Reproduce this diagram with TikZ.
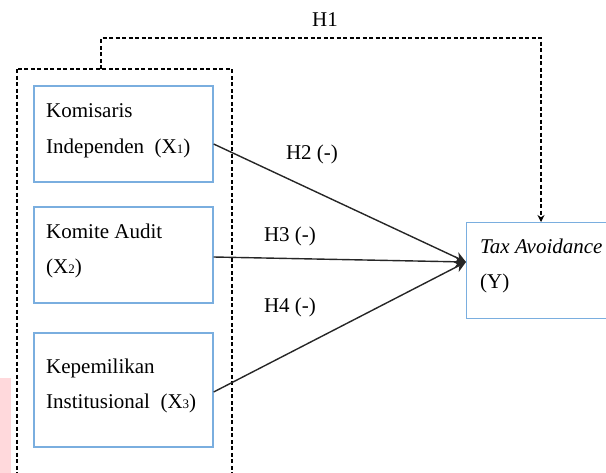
\documentclass[tikz,border=0pt]{standalone}
\usepackage{fontspec}
\setmainfont{Liberation Serif}
\usetikzlibrary{arrows.meta}
\definecolor{boxblue}{HTML}{7AAEDF}
\definecolor{wmpink}{HTML}{FFD9DC}
\tikzset{
  varbox/.style={draw=boxblue, line width=1.3pt, minimum width=179pt, inner sep=0pt},
  lbl/.style={inner sep=0pt, anchor=base west, font=\fontsize{21}{24}\selectfont},
  hlbl/.style={inner sep=0pt, anchor=base, font=\fontsize{21}{24}\selectfont},
  grp/.style={draw=black, line width=1.2pt, dash pattern=on 4pt off 2.5pt},
  rel/.style={draw=black!85, line width=1.4pt, -{Stealth[length=11pt,width=11pt]}},
  hone/.style={grp, -{Stealth[length=7pt,width=7pt]}}
}
\newcommand{\sbx}[1]{{\fontsize{13}{13}\selectfont #1}}
\begin{document}
\begin{tikzpicture}[x=1pt,y=-1pt]
\useasboundingbox (0,0) rectangle (606,472);
\begin{scope}
\clip (0,0) rectangle (606,472);
\fill[wmpink] (0,378) rectangle (11,480);
% group box
\draw[grp] (17,69) rectangle (232,490);
% boxes
\node[varbox, minimum height=96pt] (x1) at (123.5,134) {};
\node[varbox, minimum height=96pt] (x2) at (123.5,255) {};
\node[varbox, minimum height=114pt] (x3) at (123.5,390) {};
\node[varbox, minimum width=180pt, minimum height=96pt, anchor=north west] (yb) at (466,222) {};
% texts
\node[lbl] (t1a) at (46,117) {Komisaris};
\node[lbl] (t1b) at (46,153) {Independen\ \ (X\sbx{1})};
\node[lbl] (t2a) at (46,238) {Komite Audit};
\node[lbl] (t2b) at (46,273) {(X\sbx{2})};
\node[lbl] (t3a) at (46,373) {Kepemilikan};
\node[lbl] (t3b) at (46,408) {Institusional\ \ (X\sbx{3})};
\node[lbl] (tya) at (480,253) {\itshape Tax Avoidance};
\node[lbl] (tyb) at (480,288) {(Y)};
% hypothesis labels
\node[hlbl] (h1) at (325,26) {H1};
\node[hlbl] (h2) at (312,159) {H2 (-)};
\node[hlbl] (h3) at (290,241) {H3 (-)};
\node[hlbl] (h4) at (290,312) {H4 (-)};
% connectors
\coordinate (s1) at (x1.east |- 0,144);
\coordinate (s2) at (x2.east |- 0,257);
\coordinate (s3) at (x3.east |- 0,392);
\coordinate (tg) at (yb.west |- 0,262);
\coordinate (g) at (101,69);
\coordinate (ytop) at (541,222);
\draw[rel] (s1) -- (tg);
\draw[rel] (s2) -- (tg);
\draw[rel] (s3) -- (tg);
\draw[hone] (g) -- (101,38) -- (541,38) -- (ytop);
\end{scope}
\end{tikzpicture}
\end{document}
